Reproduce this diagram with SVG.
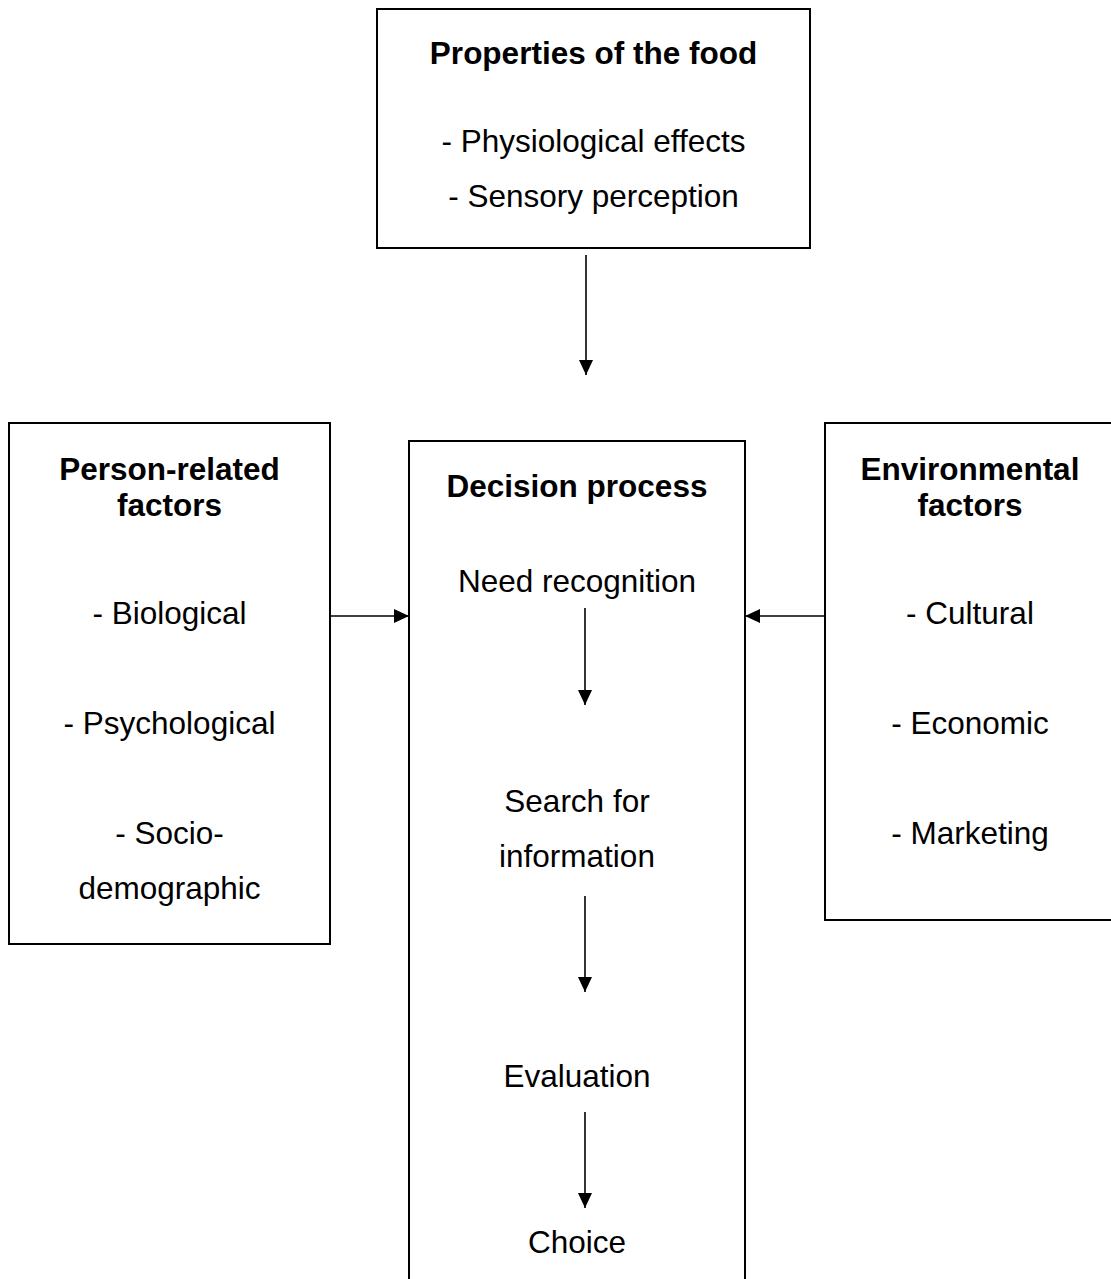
<svg xmlns="http://www.w3.org/2000/svg" width="1111" height="1279" viewBox="0 0 1111 1279">
<defs>
<marker id="ah" markerUnits="userSpaceOnUse" markerWidth="16" markerHeight="14" refX="15" refY="7" orient="auto">
<path d="M0,0 L15,7 L0,14 Z" fill="#000"/>
</marker>
<style>
.box{fill:#fff;stroke:#000;stroke-width:2}
.t{font-family:"Liberation Sans",Arial,sans-serif;font-size:31.5px;fill:#000;text-anchor:middle}
.b{font-weight:bold}
.c{stroke:#000;stroke-width:1.6;fill:none;marker-end:url(#ah)}
</style>
</defs>
<rect width="1111" height="1279" fill="#fff"/>
<g id="food">
<rect class="box" x="377" y="9" width="433" height="239"/>
<text class="t b" x="593.5" y="64">Properties of the food</text>
<text class="t" x="593.5" y="152">- Physiological effects</text>
<text class="t" x="593.5" y="207">- Sensory perception</text>
</g>
<g id="person">
<rect class="box" x="9" y="423" width="321" height="521"/>
<text class="t b" x="169.5" y="480">Person-related</text>
<text class="t b" x="169.5" y="516">factors</text>
<text class="t" x="169.5" y="624">- Biological</text>
<text class="t" x="169.5" y="734">- Psychological</text>
<text class="t" x="169.5" y="844">- Socio-</text>
<text class="t" x="169.5" y="899">demographic</text>
</g>
<g id="decision">
<rect class="box" x="409" y="441" width="336" height="860"/>
<text class="t b" x="577" y="497">Decision process</text>
<text class="t" x="577" y="592">Need recognition</text>
<text class="t" x="577" y="812">Search for</text>
<text class="t" x="577" y="867">information</text>
<text class="t" x="577" y="1087">Evaluation</text>
<text class="t" x="577" y="1253">Choice</text>
</g>
<g id="environment">
<rect class="box" x="825" y="423" width="292" height="497"/>
<text class="t b" x="970" y="480">Environmental</text>
<text class="t b" x="970" y="516">factors</text>
<text class="t" x="970" y="624">- Cultural</text>
<text class="t" x="970" y="734">- Economic</text>
<text class="t" x="970" y="844">- Marketing</text>
</g>
<g id="connectors">
<line class="c" x1="586" y1="255" x2="586" y2="375"/>
<line class="c" x1="330" y1="616" x2="409" y2="616"/>
<line class="c" x1="825" y1="616" x2="745" y2="616"/>
<line class="c" x1="585" y1="608" x2="585" y2="705"/>
<line class="c" x1="585" y1="896" x2="585" y2="992"/>
<line class="c" x1="585" y1="1112" x2="585" y2="1208"/>
</g>
</svg>
